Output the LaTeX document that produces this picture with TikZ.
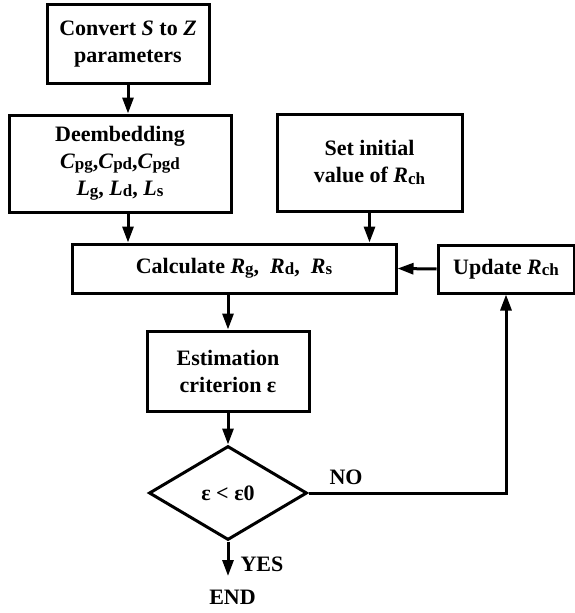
\documentclass[tikz,border=0pt]{standalone}
\usepackage{fontspec}
\setmainfont{Liberation Serif}
\usetikzlibrary{shapes.geometric,arrows.meta}
\newcommand{\ssub}[1]{\raisebox{-1.2pt}{\fontsize{17}{17}\selectfont #1}}
\begin{document}
\begin{tikzpicture}[x=1pt,y=1pt,
  every node/.style={font=\fontsize{22}{27}\selectfont\bfseries},
  boxnode/.style={draw,line width=3pt,rectangle,inner sep=0pt,align=center},
  flow/.style={line width=3pt,-{Triangle[length=16pt,width=11pt]}}]
\useasboundingbox (0,0) rectangle (575,-613);
\node[boxnode,minimum width=162,minimum height=79,text depth=4pt] (conv) at (128,-43.5) {Convert \textit{S} to \textit{Z}\\parameters};
\node[boxnode,minimum width=222,minimum height=97] (deemb) at (120,-163.5) {Deembedding\\\textit{C}\ssub{pg},\textit{C}\ssub{pd},\textit{C}\ssub{pgd}\\\textit{L}\ssub{g}, \textit{L}\ssub{d}, \textit{L}\ssub{s}};
\node[boxnode,minimum width=185,minimum height=97] (init) at (369.5,-162.5) {Set initial\\value of \textit{R}\ssub{ch}};
\node[boxnode,minimum width=324,minimum height=49] (calc) at (234,-268.5) {Calculate \textit{R}\ssub{g},\ \ \textit{R}\ssub{d},\ \ \textit{R}\ssub{s}};
\node[boxnode,minimum width=136,minimum height=48] (upd) at (506,-269) {Update \textit{R}\ssub{ch}};
\node[boxnode,minimum width=162,minimum height=80] (est) at (228,-371) {Estimation\\criterion ε};
\node[draw,line width=3pt,diamond,inner sep=0pt,minimum width=158,minimum height=94] (dec) at (228,-493) {ε < ε0};
\coordinate (yesend) at (228,-576);
\node (yes) at (262,-564) {YES};
\node (endn) at (232.5,-597) {END};
\node (no) at (346,-477) {NO};
\draw[flow] (conv.south) -- (conv.south |- deemb.north);
\draw[flow] (conv.south |- deemb.south) -- (conv.south |- calc.north);
\draw[flow] (init.south) -- (init.south |- calc.north);
\draw[flow] (upd.west) -- (calc.east);
\draw[flow] (est.north |- calc.south) -- (est.north);
\draw[flow] (est.south) -- (dec.north);
\draw[flow] (dec.east) -| (upd.south);
\draw[flow] (dec.south) -- (yesend);
\end{tikzpicture}
\end{document}
